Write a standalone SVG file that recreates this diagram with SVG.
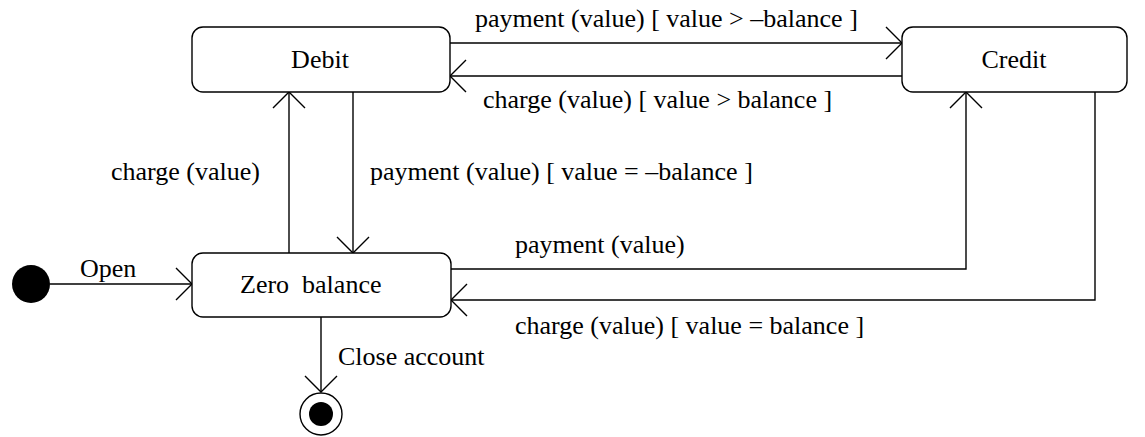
<svg xmlns="http://www.w3.org/2000/svg" width="1145" height="437" viewBox="0 0 1145 437">
<style>
.st{fill:#fff;stroke:#000;stroke-width:1.4}
.ln{fill:none;stroke:#000;stroke-width:1.4}
.t{font-family:'Liberation Serif','Times New Roman','DejaVu Serif',serif;font-size:26px;fill:#000}
.c{text-anchor:middle}
</style>
<defs>
<marker id="arr" markerUnits="userSpaceOnUse" markerWidth="40" markerHeight="40" refX="0" refY="0" viewBox="-20 -20 40 40" orient="auto" overflow="visible">
<path d="M-16,-16 L0,0 L-16,16" fill="none" stroke="#000" stroke-width="1.4"/>
</marker>
</defs>
<rect width="1145" height="437" fill="#fff"/>
<g id="connectors">
<path class="ln" d="M50,284 L192,284" marker-end="url(#arr)"/>
<path class="ln" d="M289,253 L289,92" marker-end="url(#arr)"/>
<path class="ln" d="M353,92 L353,253" marker-end="url(#arr)"/>
<path class="ln" d="M450,43 L902,43" marker-end="url(#arr)"/>
<path class="ln" d="M902,76 L450,76" marker-end="url(#arr)"/>
<path class="ln" d="M451,269 L966,269 L966,92" marker-end="url(#arr)"/>
<path class="ln" d="M1095,92 L1095,300 L451,300" marker-end="url(#arr)"/>
<path class="ln" d="M321,317 L321,392" marker-end="url(#arr)"/>
<g class="t" font-family="Liberation Serif, Times New Roman, DejaVu Serif, serif">
<text x="80" y="277">Open</text>
<text x="111" y="180">charge (value)</text>
<text x="370" y="180">payment (value) [ value = –balance ]</text>
<text x="475" y="27">payment (value) [ value &gt; –balance ]</text>
<text x="483" y="108">charge (value) [ value &gt; balance ]</text>
<text x="515" y="253">payment (value)</text>
<text x="515" y="334">charge (value) [ value = balance ]</text>
<text x="338" y="365">Close account</text>
</g>
</g>
<g id="initial"><circle cx="31" cy="284" r="19" fill="#000"/></g>
<g id="debit"><rect class="st" x="192" y="27" width="258" height="65" rx="11"/><text class="t c" font-family="Liberation Serif, Times New Roman, DejaVu Serif, serif" x="320" y="68">Debit</text></g>
<g id="credit"><rect class="st" x="902" y="27" width="225" height="65" rx="11"/><text class="t c" font-family="Liberation Serif, Times New Roman, DejaVu Serif, serif" x="1014" y="68">Credit</text></g>
<g id="zero"><rect class="st" x="192" y="253" width="259" height="64" rx="11"/><text class="t" font-family="Liberation Serif, Times New Roman, DejaVu Serif, serif" x="240" y="293" xml:space="preserve">Zero  balance</text></g>
<g id="final"><circle class="st" cx="321" cy="414" r="21"/><circle cx="321" cy="414" r="12" fill="#000"/></g>
</svg>
